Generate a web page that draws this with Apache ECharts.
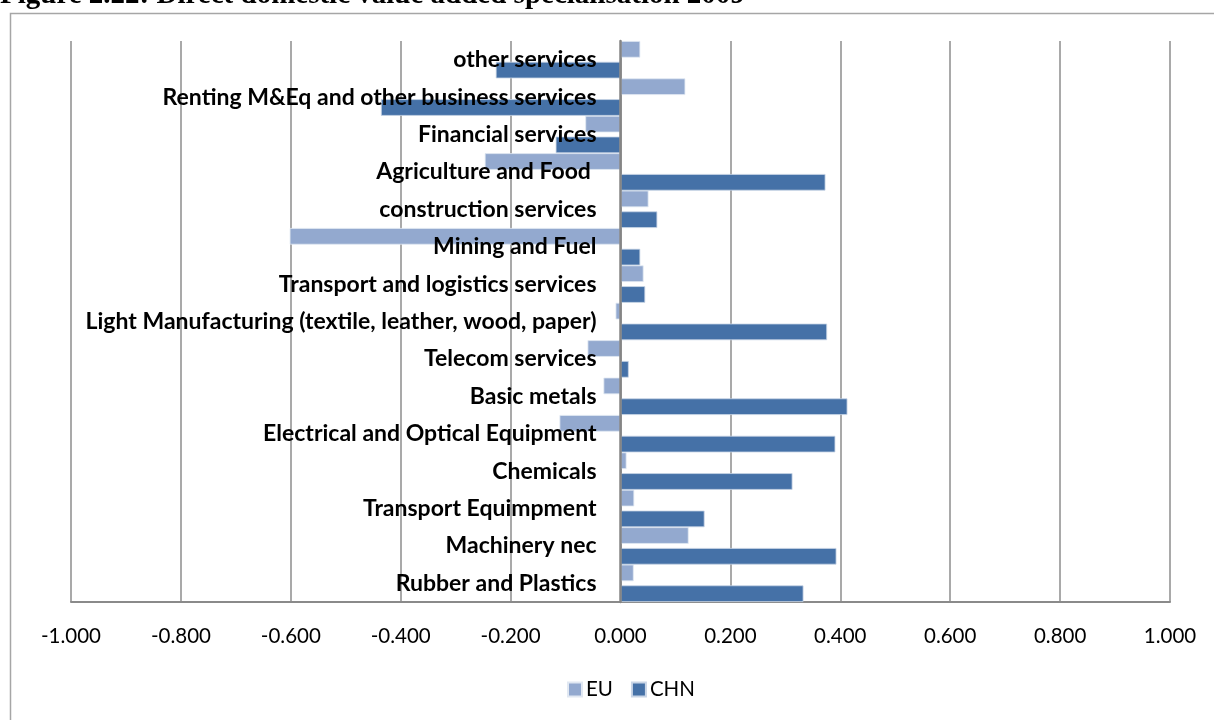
<!DOCTYPE html>
<html>
<head>
<meta charset="utf-8">
<title>Direct domestic value added specialisation 2009</title>
<script src="https://cdn.jsdelivr.net/npm/echarts@6/dist/echarts.min.js"></script>
<style>
  html, body { margin: 0; padding: 0; background: #ffffff; }
  #chart { width: 1214px; height: 720px; }
</style>
</head>
<body>
<div id="chart"></div>
<script>
// Sectors, listed bottom to top as drawn on the category axis
const categories = [
  'Rubber and Plastics',
  'Machinery nec',
  'Transport Equimpment',
  'Chemicals',
  'Electrical and Optical Equipment',
  'Basic metals',
  'Telecom services',
  'Light Manufacturing (textile, leather, wood, paper)',
  'Transport and logistics services',
  'Mining and Fuel',
  'construction services',
  'Agriculture and Food ',
  'Financial services',
  'Renting M&Eq and other business services',
  'other services'
];

// Specialisation index per sector, same order as categories
const euValues = [
  0.024, 0.124, 0.025, 0.011, -0.111, -0.031, -0.060, -0.009,
  0.042, -0.602, 0.051, -0.247, -0.064, 0.118, 0.036
];
const chnValues = [
  0.333, 0.393, 0.153, 0.313, 0.391, 0.413, 0.015, 0.376,
  0.045, 0.036, 0.067, 0.373, -0.118, -0.436, -0.227
];

const xTicks = { min: -1, max: 1, step: 0.2 };

const titleText = 'Figure 2.22: Direct domestic value added specialisation 2009';

const chart = echarts.init(document.getElementById('chart'), null, { renderer: 'canvas' });

const euColor = '#93a9cf';
const chnColor = '#4571a7';

// Plot box; the category axis is moved across to sit on the value axis zero
const gridLeft = 71;
const gridRight = 44;
const plotWidth = 1214 - gridLeft - gridRight;
const zeroShift = plotWidth * (0 - xTicks.min) / (xTicks.max - xTicks.min);

chart.setOption({
  backgroundColor: '#ffffff',
  animation: false,
  graphic: [
    {
      type: 'text',
      left: 0,
      top: -19,
      style: {
        text: titleText,
        font: 'bold 29px "Liberation Serif", "DejaVu Serif", serif',
        fill: '#000000'
      },
      z: 10
    },
    {
      type: 'rect',
      shape: { x: 10.5, y: 13.5, width: 1220, height: 720 },
      style: { fill: 'none', stroke: '#a6a6a6', lineWidth: 1.5 },
      z: 0
    }
  ],
  legend: {
    data: ['EU', 'CHN'],
    bottom: 15,
    left: 562,
    itemWidth: 14,
    itemHeight: 14,
    itemGap: 18,
    icon: 'rect',
    textStyle: {
      fontFamily: 'Lato, "Open Sans", sans-serif',
      fontSize: 20.5,
      color: '#000000',
      padding: [0, 0, 0, -1]
    }
  },
  grid: {
    left: gridLeft,
    right: gridRight,
    top: 41,
    bottom: 118,
    containLabel: false,
    outerBoundsMode: 'none'
  },
  xAxis: {
    type: 'value',
    min: xTicks.min,
    max: xTicks.max,
    interval: xTicks.step,
    axisLine: { show: true, onZero: false, lineStyle: { color: '#8a8a8a', width: 2 } },
    axisTick: { show: false },
    splitLine: { show: true, lineStyle: { color: '#8c8c8c', width: 1.5 } },
    axisLabel: {
      margin: 24,
      fontFamily: 'Lato, "Open Sans", sans-serif',
      fontSize: 20.5,
      color: '#000000',
      formatter: v => v.toFixed(3)
    }
  },
  yAxis: {
    type: 'category',
    data: categories,
    position: 'left',
    offset: -zeroShift,
    axisLine: { show: true, onZero: false, lineStyle: { color: '#858585', width: 2.5 } },
    axisTick: { show: false },
    splitLine: { show: false },
    axisLabel: {
      margin: 24,
      fontFamily: 'Lato, "Open Sans", sans-serif',
      fontWeight: 'bold',
      fontSize: 23,
      color: '#000000'
    },
    z: 5
  },
  series: [
    {
      name: 'EU',
      type: 'bar',
      data: euValues,
      barCategoryGap: '0%',
      barGap: '25%',
      itemStyle: { color: euColor, borderColor: '#e1e8f2', borderWidth: 0.8 },
      z: 2
    },
    {
      name: 'CHN',
      type: 'bar',
      data: chnValues,
      itemStyle: { color: chnColor, borderColor: '#c9d5e6', borderWidth: 0.8 },
      z: 2
    }
  ]
});
</script>
</body>
</html>
